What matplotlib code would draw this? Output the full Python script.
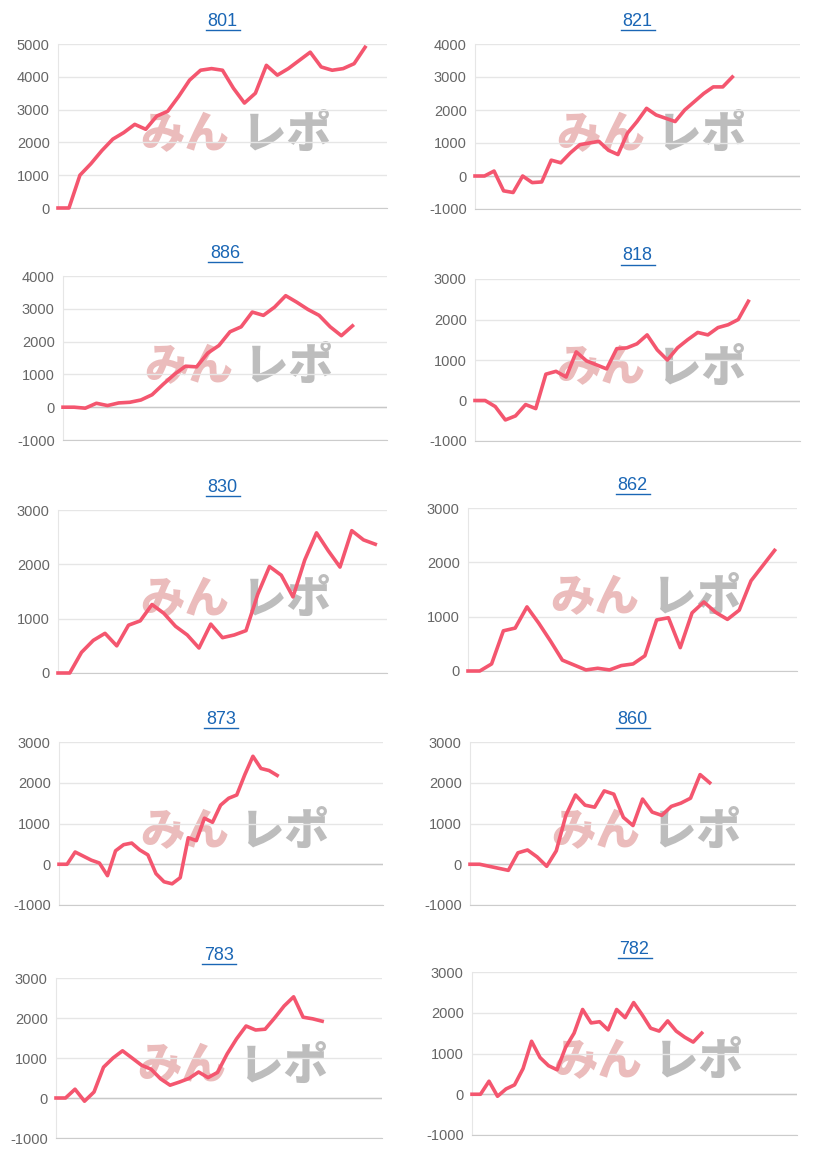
import matplotlib
matplotlib.use("Agg")
import matplotlib.pyplot as plt
plt.rcParams['axes.unicode_minus'] = False
plt.rcParams['font.family'] = ['Liberation Sans', 'DejaVu Sans']

titles = ["801", "821", "886", "818", "830", "862", "873", "860", "783", "782"]
s801 = [0,0,1000,1350,1750,2100,2300,2550,2400,2800,2950,3400,3900,4200,4250,4200,3650,3200,3500,4350,4050,4250,4500,4750,4300,4200,4250,4400,4900]
s821 = [0,0,150,-450,-500,0,-200,-180,480,400,700,950,1000,1050,780,650,1300,1650,2050,1850,1750,1650,2000,2250,2500,2700,2700,3000]
s886 = [0,0,-30,120,50,130,150,220,380,700,1000,1250,1230,1650,1880,2300,2450,2900,2800,3050,3400,3200,2980,2800,2450,2180,2480]
s818 = [0,0,-150,-480,-380,-100,-200,650,720,580,1200,980,880,780,1280,1300,1400,1620,1250,1000,1300,1500,1680,1620,1800,1870,2000,2450]
s830 = [0,0,380,600,730,500,880,960,1260,1100,860,700,460,900,650,700,780,1450,1960,1800,1400,2080,2580,2250,1950,2620,2450,2370]
s862 = [0,0,130,740,790,1180,880,550,200,110,20,50,20,100,130,280,940,980,430,1070,1270,1080,950,1120,1660,1940,2220]
s873 = [0,0,300,200,100,30,-280,330,480,520,350,230,-230,-430,-480,-330,650,580,1130,1030,1450,1620,1700,2200,2650,2350,2300,2180]
s860 = [0,0,-50,-100,-150,280,350,180,-50,330,1200,1700,1450,1400,1800,1720,1150,950,1600,1280,1200,1420,1500,1620,2200,2000]
s783 = [0,0,220,-80,150,770,1000,1180,1000,820,720,480,320,400,490,650,510,640,1100,1480,1800,1700,1720,2000,2300,2530,2020,1980,1920]
s782 = [0,0,320,-50,130,230,630,1300,900,700,600,1150,1500,2080,1750,1780,1580,2080,1880,2250,1950,1620,1550,1800,1550,1400,1280,1500]
series = [s801, s821, s886, s818, s830, s862, s873, s860, s783, s782]
ylims = [(0,5000),(-1000,4000),(-1000,4000),(-1000,3000),(0,3000),(0,3000),(-1000,3000),(-1000,3000),(-1000,3000),(-1000,3000)]
xmax = [30.0,34.1,29.1,32.1,28.0,27.9,40.1,33.9,34.3,38.2]

boxes = [(58,387,44,208),(475,800,44,209),(63,387,276,440),(475,800,279,441),
         (58,387,510,673),(468,797,508,671),(59,383,742,905),(470,795,742,905),
         (56,382,978,1138),(472,797,972,1135)]

W, H = 821, 1155
fig = plt.figure(figsize=(W/100, H/100), dpi=100)
for i in range(10):
    l, r, t, b = boxes[i]
    ax = fig.add_axes([l/W, 1-b/H, (r-l)/W, (b-t)/H])
    lo, hi = ylims[i]
    ax.set_ylim(lo, hi)
    ax.set_xlim(0, xmax[i])
    ax.set_yticks(range(lo, hi+1, 1000))
    ax.set_xticks([])
    ax.grid(axis='y', color='#e6e6e6', lw=1)
    ax.set_axisbelow(True)
    for sp in ['top','right']:
        ax.spines[sp].set_visible(False)
    ax.spines['left'].set_color('#e6e6e6')
    ax.spines['bottom'].set_color('#cccccc')
    if lo < 0:
        ax.axhline(0, color='#c8c8c8', lw=1, zorder=1)
    ax.tick_params(axis='y', length=0, labelsize=10.5, labelcolor='#666666', pad=6)
    ax.text(0.25, 0.45, "みん", transform=ax.transAxes, fontsize=32, fontweight='black',
            color='#ebbcbc', family=['Noto Sans CJK JP'], ha='left', va='center', zorder=0)
    ax.text(0.56, 0.45, "レポ", transform=ax.transAxes, fontsize=32, fontweight='black',
            color='#bdbdbd', family=['Noto Sans CJK JP'], ha='left', va='center', zorder=0)
    ax.plot(range(len(series[i])), series[i], color='#f4566f', lw=2.6, zorder=3, clip_on=False)
    cx = (l + r) / 2
    fig.text(cx/W, 1-(t-23)/H, titles[i], ha='center', va='center', fontsize=13,
             color='#1a66b5')
    fig.add_artist(plt.Line2D([(cx-17)/W, (cx+17)/W], [1-(t-14)/H]*2, color='#1a66b5', lw=1))
fig.savefig("out.png", dpi=100, facecolor='white')
